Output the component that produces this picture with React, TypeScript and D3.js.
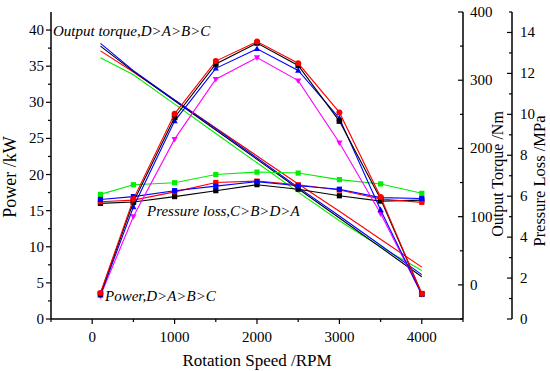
import * as d3 from 'd3';

// rotation speed (RPM)
const speeds = [100, 500, 1000, 1500, 2000, 2500, 3000, 3500, 4000];

// power (kW)
const powerRed = [3.6, 16.6, 28.4, 35.7, 38.4, 35.4, 28.6, 16.9, 3.5];
const powerBlack = [3.5, 16.2, 27.9, 35.3, 38.2, 35.1, 27.4, 16.6, 3.5];
const powerBlue = [3.3, 15.5, 27.4, 34.7, 37.4, 34.4, 27.8, 15.1, 3.4];
const powerMagenta = [3.2, 14.2, 24.9, 33.2, 36.2, 33.0, 24.4, 14.6, 3.4];

// output torque (Nm)
const torqueBlue = [354, 314, 271, 229, 186, 143, 101, 58, 15];
const torqueBlack = [350, 313, 270, 227, 184, 141, 98, 55, 12];
const torqueRed = [343, 312, 271, 230, 189, 148, 108, 67, 26];
const torqueGreen = [333, 308, 265, 222, 179, 136, 94, 56, 21];

// pressure loss (MPa)
const pressGreen = [6.09, 6.56, 6.66, 7.06, 7.18, 7.13, 6.81, 6.6, 6.14];
const pressBlue = [5.84, 5.98, 6.27, 6.49, 6.71, 6.51, 6.34, 5.93, 5.89];
const pressRed = [5.73, 5.81, 6.21, 6.67, 6.74, 6.56, 6.3, 5.86, 5.7];
const pressBlack = [5.65, 5.72, 5.98, 6.27, 6.56, 6.34, 6.02, 5.76, 5.81];

const xTicks = [0, 1000, 2000, 3000, 4000];
const powerTicks = [0, 5, 10, 15, 20, 25, 30, 35, 40];
const torqueTicks = [0, 100, 200, 300, 400];
const pressTicks = [0, 2, 4, 6, 8, 10, 12, 14];

const W = 550;
const H = 371;
const left = 51;
const right = 463;
const top = 12;
const bottom = 319;
const pAxisX = 512;
const font = '"Liberation Serif", "Times New Roman", serif';

const x = d3.scaleLinear().domain([-500, 4500]).range([left, right]);
const yPower = d3.scaleLinear().domain([0, 42.5]).range([bottom, top]);
const yTorque = d3.scaleLinear().domain([-50, 400]).range([bottom, top]);
const yPress = d3.scaleLinear().domain([0, 15]).range([bottom, top]);

type Marker = 'circle' | 'square' | 'up' | 'down' | 'none';

function markerPath(kind: Marker, cx: number, cy: number, s: number) {
  if (kind === 'square') return `M${cx - s},${cy - s}h${2 * s}v${2 * s}h${-2 * s}Z`;
  if (kind === 'up') return `M${cx},${cy - s * 1.2}L${cx + s * 1.1},${cy + s * 0.8}L${cx - s * 1.1},${cy + s * 0.8}Z`;
  if (kind === 'down') return `M${cx},${cy + s * 1.2}L${cx + s * 1.1},${cy - s * 0.8}L${cx - s * 1.1},${cy - s * 0.8}Z`;
  return '';
}

function Series({ values, scale, color, marker, size = 3 }: {
  values: number[]; scale: d3.ScaleLinear<number, number>; color: string; marker: Marker; size?: number;
}) {
  const pts: [number, number][] = values.map((v, i) => [x(speeds[i]), scale(v)]);
  const line = d3.line();
  return (
    <g>
      <path d={line(pts) || ''} fill="none" stroke={color} strokeWidth={1.1} />
      {marker !== 'none' && pts.map(([cx, cy], i) =>
        marker === 'circle'
          ? <circle key={i} cx={cx} cy={cy} r={size} fill={color} />
          : <path key={i} d={markerPath(marker, cx, cy, size)} fill={color} />
      )}
    </g>
  );
}

export default function App() {
  const minorX = d3.range(-500, 4501, 500);
  const minorPower = d3.range(0, 42.5, 2.5);
  const minorTorque = d3.range(-50, 401, 50);
  const minorPress = d3.range(0, 15.1, 1);
  return (
    <svg width={W} height={H} style={{ position: 'absolute', left: 0, top: 0, background: '#fff' }}
      fontFamily={font}>
      {/* torque lines */}
      <Series values={torqueGreen} scale={yTorque} color="#00ee00" marker="none" />
      <Series values={torqueRed} scale={yTorque} color="#ff0000" marker="none" />
      <Series values={torqueBlack} scale={yTorque} color="#000000" marker="none" />
      <Series values={torqueBlue} scale={yTorque} color="#0000ff" marker="none" />

      {/* pressure loss */}
      <Series values={pressGreen} scale={yPress} color="#00ee00" marker="square" size={2.6} />
      <Series values={pressBlack} scale={yPress} color="#000000" marker="square" size={2.6} />
      <Series values={pressRed} scale={yPress} color="#ff0000" marker="square" size={2.6} />
      <Series values={pressBlue} scale={yPress} color="#0000ff" marker="square" size={2.6} />

      {/* power */}
      <Series values={powerMagenta} scale={yPower} color="#ff00ff" marker="down" size={2.8} />
      <Series values={powerBlue} scale={yPower} color="#0000ff" marker="up" size={2.8} />
      <Series values={powerBlack} scale={yPower} color="#000000" marker="square" size={2.8} />
      <Series values={powerRed} scale={yPower} color="#ff0000" marker="circle" size={3} />

      {/* bottom axis */}
      <line x1={left} x2={right} y1={bottom} y2={bottom} stroke="#000" strokeWidth={1.5} />
      {minorX.map(v => (
        <line key={v} x1={x(v)} x2={x(v)} y1={bottom} y2={bottom + (v % 1000 === 0 ? 5 : 3)} stroke="#000" strokeWidth={1.2} />
      ))}
      {xTicks.map(v => (
        <text key={v} x={x(v)} y={342} textAnchor="middle" fontSize={15}>{v}</text>
      ))}
      <text x={(left + right) / 2} y={366} textAnchor="middle" fontSize={17}>Rotation Speed /RPM</text>

      {/* left axis */}
      <line x1={left} x2={left} y1={top} y2={bottom} stroke="#000" strokeWidth={1.5} />
      {minorPower.map(v => (
        <line key={v} x1={left} x2={left - (v % 5 === 0 ? 5 : 3)} y1={yPower(v)} y2={yPower(v)} stroke="#000" strokeWidth={1.2} />
      ))}
      {powerTicks.map(v => (
        <text key={v} x={left - 7} y={yPower(v) + 5} textAnchor="end" fontSize={15}>{v}</text>
      ))}
      <text transform="translate(16,177) rotate(-90)" textAnchor="middle" fontSize={18}>Power /kW</text>

      {/* torque axis */}
      <line x1={right} x2={right} y1={top} y2={bottom} stroke="#000" strokeWidth={1.5} />
      {minorTorque.map(v => (
        <line key={v} x1={right} x2={right - (v % 100 === 0 ? 5 : 3)} y1={yTorque(v)} y2={yTorque(v)} stroke="#000" strokeWidth={1.2} />
      ))}
      {torqueTicks.map(v => (
        <text key={v} x={right + 7} y={yTorque(v) + 5} fontSize={15}>{v}</text>
      ))}
      <text transform="translate(503,174) rotate(-90)" textAnchor="middle" fontSize={16}>Output Torque /Nm</text>

      {/* pressure axis */}
      <line x1={pAxisX} x2={pAxisX} y1={top} y2={bottom} stroke="#000" strokeWidth={1.5} />
      {minorPress.map(v => (
        <line key={v} x1={pAxisX} x2={pAxisX - (v % 2 === 0 ? 5 : 3)} y1={yPress(v)} y2={yPress(v)} stroke="#000" strokeWidth={1.2} />
      ))}
      {pressTicks.map(v => (
        <text key={v} x={pAxisX + 8} y={yPress(v) + 5} fontSize={15}>{v}</text>
      ))}
      <text transform="translate(545,181) rotate(-90)" textAnchor="middle" fontSize={16.5}>Pressure Loss /MPa</text>

      {/* annotations */}
      <text x={53} y={36} fontSize={15} fontStyle="italic">Output torque,D&gt;A&gt;B&gt;C</text>
      <text x={147} y={216} fontSize={15} fontStyle="italic">Pressure loss,C&gt;B&gt;D&gt;A</text>
      <text x={105} y={301} fontSize={15} fontStyle="italic">Power,D&gt;A&gt;B&gt;C</text>
    </svg>
  );
}
